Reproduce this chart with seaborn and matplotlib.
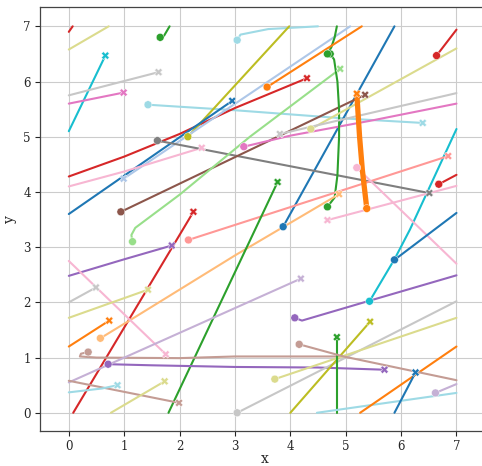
import matplotlib
matplotlib.use("Agg")
import matplotlib.pyplot as plt
import seaborn as sns
import pandas as pd

# ---- data: trajectories (x list, y list), colour name, start / end marker ----
traj_x = [
    [0, 0.07],
    [0, 0.72],
    [1.65, 1.72, 1.82],
    [0, 0.66],
    [0, 1.62],
    [0, 0.99],
    [1.43, 3.0, 5.0, 6.39],
    [3.04, 3.1, 3.6, 4.5],
    [0, 1, 2, 3, 4.3],
    [2.15, 3.98],
    [0, 2.95],
    [3.87, 5.88],
    [0.99, 5.08],
    [0, 1, 2.4],
    [1.6, 6.51],
    [0.94, 5.35],
    [3.16, 4.0, 5.5, 7.0],
    [1.15, 1.13, 1.2, 2.0, 3.27, 4.9],
    [0.08, 2.25],
    [4.67, 4.8, 4.85, 4.88, 4.88, 4.85, 4.79, 4.72],
    [4.67, 4.74, 4.8, 4.84],
    [3.58, 5.29],
    [5.2, 5.25, 5.3, 5.38],
    [4.37, 7.0],
    [3.81, 7.0],
    [6.64, 7.0],
    [5.43, 5.88, 6.16, 7.0],
    [2.16, 2.28, 4.54, 6.85],
    [6.68, 7.0],
    [4.67, 7.0],
    [5.2, 7.0],
    [0.57, 1.11, 3.0, 4.88],
    [5.88, 7.0],
    [1.8, 3.77],
    [0, 1, 1.86],
    [0, 1.75],
    [0, 0.49],
    [0, 1.43],
    [0, 0.73],
    [0.35, 0.22, 0.2, 0.5, 2.0, 3.0, 4.96],
    [0.71, 1.5, 3.0, 4.5, 5.7],
    [0, 4.19],
    [0, 1.99],
    [0, 0.6, 0.88],
    [0.76, 1.73],
    [3.04, 7.0],
    [4.0, 5.44],
    [3.72, 7.0],
    [4.84, 4.84],
    [4.48, 7.0],
    [5.26, 7.0],
    [5.88, 6.26],
    [6.62, 7.0],
    [4.08, 4.21, 5.43, 7.0],
    [4.16, 4.96, 7.0],
]
traj_y = [
    [6.9, 7.0],
    [6.58, 7.0],
    [6.8, 6.83, 7.0],
    [5.1, 6.47],
    [5.75, 6.17],
    [5.6, 5.8],
    [5.58, 5.48, 5.33, 5.25],
    [6.75, 6.85, 6.95, 7.0],
    [4.28, 4.64, 5.05, 5.52, 6.06],
    [5.0, 7.0],
    [3.6, 5.65],
    [3.37, 7.0],
    [4.24, 7.0],
    [4.1, 4.37, 4.8],
    [4.93, 3.98],
    [3.64, 5.76],
    [4.82, 5.02, 5.3, 5.6],
    [3.1, 3.22, 3.35, 3.95, 5.0, 6.23],
    [0.0, 3.64],
    [3.73, 3.9, 4.3, 5.0, 5.5, 6.0, 6.4, 6.5],
    [6.5, 6.62, 6.8, 7.0],
    [5.9, 7.0],
    [5.78, 5.0, 4.4, 3.7],
    [5.14, 6.6],
    [5.05, 5.79],
    [6.47, 6.94],
    [2.02, 2.78, 3.32, 5.14],
    [3.13, 3.17, 3.9, 4.65],
    [4.14, 4.31],
    [3.49, 4.11],
    [4.44, 2.7],
    [1.35, 1.68, 2.85, 3.96],
    [2.77, 3.62],
    [0.0, 4.18],
    [2.48, 2.78, 3.03],
    [2.75, 1.06],
    [2.0, 2.27],
    [1.72, 2.23],
    [1.2, 1.67],
    [1.1, 1.07, 1.02, 1.0, 0.99, 1.02, 1.02],
    [0.88, 0.86, 0.83, 0.82, 0.78],
    [0.55, 2.43],
    [0.58, 0.18],
    [0.37, 0.44, 0.5],
    [0.0, 0.57],
    [0.0, 2.02],
    [0.0, 1.65],
    [0.61, 1.72],
    [0.0, 1.37],
    [0.0, 0.36],
    [0.0, 1.2],
    [0.0, 0.73],
    [0.36, 0.52],
    [1.72, 1.67, 2.03, 2.49],
    [1.24, 1.02, 0.59],
]
traj_color = [
    "red", "khaki", "green", "cyan", "lightgray", "pink", "lightcyan", "lightcyan",
    "red", "olive", "blue", "blue", "lightblue", "lightpink", "gray", "brown",
    "pink", "lightgreen", "red", "green", "green", "orange", "orange", "khaki",
    "lightgray", "red", "cyan", "salmon", "red", "lightpink", "lightpink",
    "lightorange", "blue", "green", "purple", "lightpink", "lightgray", "khaki",
    "orange", "lightbrown", "purple", "lavender", "lightbrown", "lightcyan",
    "khaki", "lightgray", "olive", "khaki", "green", "lightcyan", "orange",
    "blue", "lavender", "purple", "lightbrown",
]
start_marker = [
    "", "", "o", "", "", "", "o", "o", "", "o", "", "o", "X", "", "o", "o",
    "o", "o", "", "o", "o", "o", "X", "o", "X", "o", "o", "o", "o", "X", "o",
    "o", "o", "", "", "", "", "", "", "o", "o", "", "", "", "", "o", "", "o",
    "", "", "", "", "o", "o", "o",
]
end_marker = [
    "", "", "", "X", "X", "X", "X", "", "X", "", "X", "", "", "X", "X", "X",
    "", "X", "X", "o", "", "", "o", "", "", "", "", "X", "", "", "",
    "X", "", "X", "X", "X", "X", "X", "X", "", "X", "X", "X", "X", "X", "",
    "X", "", "X", "", "", "X", "", "", "",
]
thick_traj = [22]

tab20 = {
    "blue": "#1f77b4", "lightblue": "#aec7e8", "orange": "#ff7f0e",
    "lightorange": "#ffbb78", "green": "#2ca02c", "lightgreen": "#98df8a",
    "red": "#d62728", "salmon": "#ff9896", "purple": "#9467bd",
    "lavender": "#c5b0d5", "brown": "#8c564b", "lightbrown": "#c49c94",
    "pink": "#e377c2", "lightpink": "#f7b6d2", "gray": "#7f7f7f",
    "lightgray": "#c7c7c7", "olive": "#bcbd22", "khaki": "#dbdb8d",
    "cyan": "#17becf", "lightcyan": "#9edae5",
}

sns.set_theme(style="ticks")
plt.rcParams["font.family"] = ["DejaVu Serif"]

rows = []
for i, (xs, ys) in enumerate(zip(traj_x, traj_y)):
    for k, (a, b) in enumerate(zip(xs, ys)):
        rows.append({"traj": i, "order": k, "x": a, "y": b})
df = pd.DataFrame(rows)
palette = {i: tab20[c] for i, c in enumerate(traj_color)}

fig = plt.figure(figsize=(4.82, 4.66), dpi=100)
ax = fig.add_axes([40 / 482, 35 / 466, 450 / 482, 424 / 466])

thin = df[~df["traj"].isin(thick_traj)]
sns.lineplot(data=thin, x="x", y="y", hue="traj", units="traj", estimator=None,
             sort=False, palette=palette, legend=False, linewidth=1.5, ax=ax)
thick = df[df["traj"].isin(thick_traj)]
sns.lineplot(data=thick, x="x", y="y", hue="traj", units="traj", estimator=None,
             sort=False, palette=palette, legend=False, linewidth=3.8, ax=ax)

mk = []
for i, (xs, ys) in enumerate(zip(traj_x, traj_y)):
    if start_marker[i]:
        mk.append({"traj": i, "x": xs[0], "y": ys[0], "m": start_marker[i]})
    if end_marker[i]:
        mk.append({"traj": i, "x": xs[-1], "y": ys[-1], "m": end_marker[i]})
mdf = pd.DataFrame(mk)
sns.scatterplot(data=mdf, x="x", y="y", hue="traj", style="m",
                markers={"o": "o", "X": "X"}, palette=palette, legend=False,
                s=32, linewidth=0.3, ax=ax, zorder=3)

ax.set_xlim(-0.52, 7.605)
ax.set_ylim(-0.33, 7.35)
ax.set_xticks(range(8))
ax.set_yticks(range(8))
ax.grid(True, color="#cccccc", linewidth=0.8)
ax.set_axisbelow(True)
ax.tick_params(labelsize=8.5, length=3.5, width=0.8, direction="out", pad=3)
for s in ax.spines.values():
    s.set_color("#444444")
    s.set_linewidth(0.9)
ax.set_xlabel("x", fontsize=10, labelpad=-1)
ax.set_ylabel("y", fontsize=10, labelpad=5)

fig.savefig("out.png", dpi=100)
